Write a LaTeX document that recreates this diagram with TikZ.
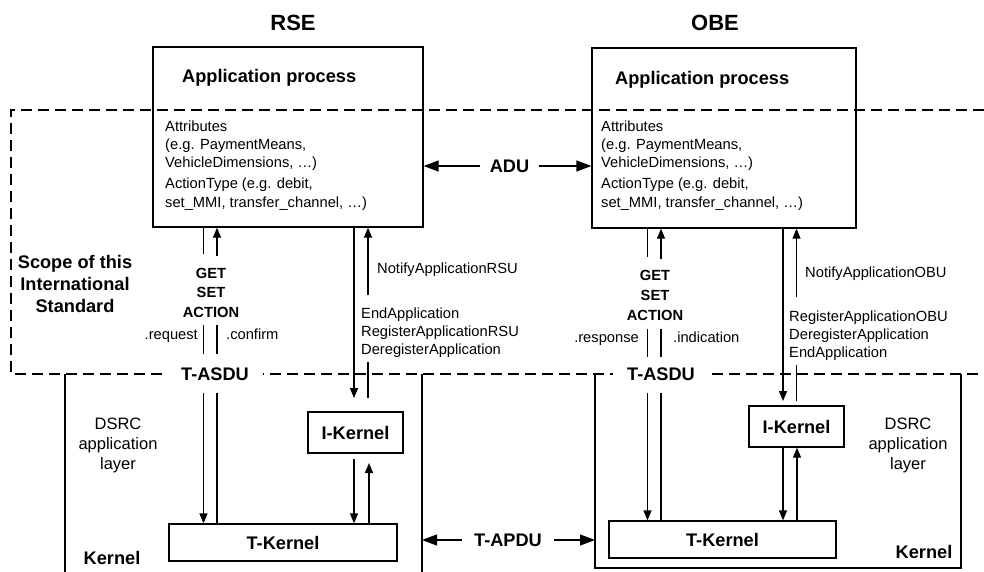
\documentclass[tikz,border=0pt]{standalone}
\usepackage{fontspec}
\setmainfont{Liberation Sans}
\usetikzlibrary{arrows.meta}
\begin{document}
\begin{tikzpicture}[x=1pt,y=-1pt,
  small/.style={font=\fontsize{14.7}{18}\selectfont,inner sep=0pt},
  dsrc/.style={font=\fontsize{16.5}{20}\selectfont,inner sep=0pt},
  bigb/.style={font=\fontsize{18.2}{22}\selectfont\bfseries,inner sep=0pt},
  medb/.style={font=\fontsize{14.7}{18}\selectfont\bfseries,inner sep=0pt},
  titleb/.style={font=\fontsize{22}{26}\selectfont\bfseries,inner sep=0pt},
  box/.style={draw,line width=1.3pt,inner sep=0pt},
  ln/.style={line width=1.3pt},
  arr/.style={line width=1.3pt,-{Triangle[length=10pt,width=8pt]}},
  harr/.style={line width=1.3pt,-{Triangle[length=15pt,width=11pt]}},
  scopeline/.style={line width=2.2pt,dash pattern=on 11pt off 6pt}
]
\useasboundingbox (0,0) rectangle (984,571);

% titles
\node[titleb] (tR) at (293,23) {RSE};
\node[titleb] (tO) at (715,23) {OBE};

% main boxes
\node[box,minimum width=270pt,minimum height=180pt] (apR) at (288,137) {};
\node[box,minimum width=264pt,minimum height=180pt] (apO) at (724,138) {};
\node[box,minimum width=228pt,minimum height=37pt] (tkR) at (283,542.5) {};
\node[box,minimum width=227pt,minimum height=37pt] (tkO) at (722.5,539.5) {};
\node[box,minimum width=95pt,minimum height=41pt] (ikR) at (355.5,432.5) {};
\node[box,minimum width=95pt,minimum height=41pt] (ikO) at (796.5,426.5) {};
\node[bigb] (tkRt) at (tkR) {T-Kernel};
\node[bigb] (tkOt) at (tkO) {T-Kernel};
\node[bigb] (ikRt) at (ikR) {I-Kernel};
\node[bigb] (ikOt) at (ikO) {I-Kernel};

% application box texts
\node[bigb,anchor=base west] (apRt) at (182,82) {Application process};
\node[bigb,anchor=base west] (apOt) at (615,84) {Application process};
\node[small,anchor=base west] (aR1) at (165,131) {Attributes};
\node[small,anchor=base west] (aR2) at (165,149) {(e.g. PaymentMeans,};
\node[small,anchor=base west] (aR3) at (165,167) {VehicleDimensions, \ldots)};
\node[small,anchor=base west] (aR4) at (165,188) {ActionType (e.g. debit,};
\node[small,anchor=base west] (aR5) at (165,207) {set\_MMI, transfer\_channel, \ldots)};
\node[small,anchor=base west] (aO1) at (601,131) {Attributes};
\node[small,anchor=base west] (aO2) at (601,149) {(e.g. PaymentMeans,};
\node[small,anchor=base west] (aO3) at (601,167) {VehicleDimensions, \ldots)};
\node[small,anchor=base west] (aO4) at (601,188) {ActionType (e.g. debit,};
\node[small,anchor=base west] (aO5) at (601,207) {set\_MMI, transfer\_channel, \ldots)};

% kernel regions
\coordinate (kRl) at (65,374);
\coordinate (kRr) at (422,374);
\coordinate (kOl) at (595,374);
\coordinate (kOr) at (961,374);
\draw[ln] (kRl) -- (65,572);
\draw[ln] (kRr) -- (422,572);
\draw[ln] (kOl) -- (595,568) -- (961,568) -- (kOr);

% scope dashed line
\draw[scopeline] (984,110) -- (11,110) -- (11,374) -- (984,374);

% T-ASDU labels (mask the dashed line)
\node[bigb,fill=white,inner xsep=14pt,inner ysep=3pt] (asR) at (215,374) {T-ASDU};
\node[bigb,fill=white,inner xsep=14pt,inner ysep=3pt] (asO) at (661,374) {T-ASDU};

% ADU
\node[bigb,inner xsep=9.5pt] (adu) at (509.5,166) {ADU};
\draw[harr] (adu.west) -- (adu.west -| apR.east);
\draw[harr] (adu.east) -- (adu.east -| apO.west);

% T-APDU
\node[bigb,inner xsep=12pt] (tapdu) at (508,540) {T-APDU};
\draw[harr] (tapdu.west) -- (tapdu.west -| kRr);
\draw[harr] (tapdu.east) -- (tapdu.east -| kOl);

% Scope text
\node[bigb,anchor=base] (sc1) at (75,268) {Scope of this};
\node[bigb,anchor=base] (sc2) at (75,290) {International};
\node[bigb,anchor=base] (sc3) at (75,312) {Standard};

% RSE primitives
\node[medb,anchor=base] (gR1) at (211,278) {GET};
\node[medb,anchor=base] (gR2) at (211,297) {SET};
\node[medb,anchor=base] (gR3) at (211,317) {ACTION};
\node[small,anchor=base east] (reqR) at (198,339) {.request};
\node[small,anchor=base west] (cnfR) at (226,339) {.confirm};

\coordinate (rA1) at (203.5,254);
\coordinate (rA2) at (203.5,325);
\coordinate (rA3) at (203.5,354);
\coordinate (rA4) at (203.5,393);
\draw[ln] (rA1 |- apR.south) -- (rA1);
\draw[ln] (rA2) -- (rA3);
\draw[arr] (rA4) -- (rA4 |- tkR.north);
\coordinate (rB1) at (217,256);
\coordinate (rB2) at (217,325);
\coordinate (rB3) at (217,354);
\coordinate (rB4) at (217,393);
\draw[arr] (rB1) -- (rB1 |- apR.south);
\draw[ln] (rB2) -- (rB3);
\draw[ln] (rB4) -- (rB4 |- tkR.north);

% RSE management
\node[small,anchor=base west] (nR) at (377,273) {NotifyApplicationRSU};
\node[small,anchor=base west] (eR1) at (361,318) {EndApplication};
\node[small,anchor=base west] (eR2) at (361,336) {RegisterApplicationRSU};
\node[small,anchor=base west] (eR3) at (361,354) {DeregisterApplication};
\coordinate (nR1) at (354,398);
\draw[arr] (nR1 |- apR.south) -- (nR1);
\coordinate (nR2a) at (368,398);
\coordinate (nR2b) at (368,362);
\coordinate (nR2c) at (368,295);
\draw[ln] (nR2a) -- (nR2b);
\draw[arr] (nR2c) -- (nR2c |- apR.south);
\coordinate (iR1) at (354,459);
\coordinate (iR2) at (369,463);
\draw[arr] (iR1) -- (iR1 |- tkR.north);
\draw[arr] (iR2 |- tkR.north) -- (iR2);

% OBE primitives
\node[medb,anchor=base] (gO1) at (655,280) {GET};
\node[medb,anchor=base] (gO2) at (655,300) {SET};
\node[medb,anchor=base] (gO3) at (655,320) {ACTION};
\node[small,anchor=base east] (rspO) at (639,342) {.response};
\node[small,anchor=base west] (indO) at (673,342) {.indication};

\coordinate (oA1) at (647.5,257);
\coordinate (oA2) at (647.5,329);
\coordinate (oA3) at (647.5,357);
\coordinate (oA4) at (647.5,393);
\draw[ln] (oA1 |- apO.south) -- (oA1);
\draw[ln] (oA2) -- (oA3);
\draw[arr] (oA4) -- (oA4 |- tkO.north);
\coordinate (oB1) at (661,259);
\coordinate (oB2) at (661,329);
\coordinate (oB3) at (661,357);
\coordinate (oB4) at (661,393);
\draw[arr] (oB1) -- (oB1 |- apO.south);
\draw[ln] (oB2) -- (oB3);
\draw[ln] (oB4) -- (oB4 |- tkO.north);

% OBE management
\node[small,anchor=base west] (nO) at (805,277) {NotifyApplicationOBU};
\node[small,anchor=base west] (eO1) at (789,321) {RegisterApplicationOBU};
\node[small,anchor=base west] (eO2) at (789,339) {DeregisterApplication};
\node[small,anchor=base west] (eO3) at (789,357) {EndApplication};
\coordinate (nO1) at (783,401);
\draw[arr] (nO1 |- apO.south) -- (nO1);
\coordinate (nO2a) at (796.5,401);
\coordinate (nO2b) at (796.5,365);
\coordinate (nO2c) at (796.5,297);
\draw[ln] (nO2a) -- (nO2b);
\draw[arr] (nO2c) -- (nO2c |- apO.south);
\coordinate (iO1) at (783,447);
\coordinate (iO2) at (797,447);
\draw[arr] (iO1 |- ikO.south) -- (iO1 |- tkO.north);
\draw[arr] (iO2 |- tkO.north) -- (iO2 |- ikO.south);

% DSRC labels
\node[dsrc,anchor=base] (dR1) at (118,429) {DSRC};
\node[dsrc,anchor=base] (dR2) at (118,449) {application};
\node[dsrc,anchor=base] (dR3) at (118,469) {layer};
\node[dsrc,anchor=base] (dO1) at (908,429) {DSRC};
\node[dsrc,anchor=base] (dO2) at (908,449) {application};
\node[dsrc,anchor=base] (dO3) at (908,469) {layer};

% Kernel labels
\node[bigb,anchor=base] (kR) at (112,564) {Kernel};
\node[bigb,anchor=base] (kO) at (924,558) {Kernel};
\end{tikzpicture}
\end{document}
